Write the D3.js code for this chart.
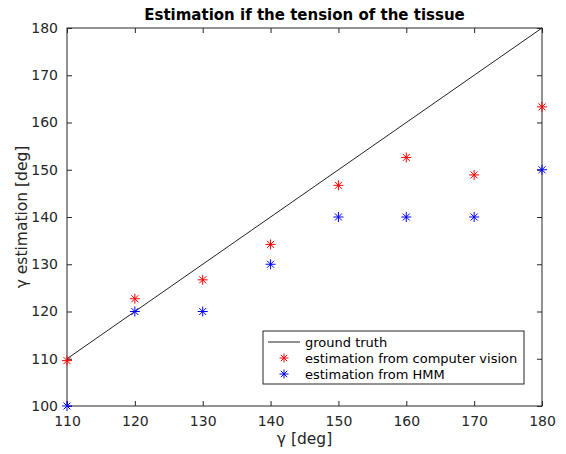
<!DOCTYPE html>
<html>
<head>
<meta charset="utf-8">
<script src="https://cdn.jsdelivr.net/npm/d3@7"></script>
<style>
  body { margin: 0; background: #fff; }
  text { font-family: "DejaVu Sans", sans-serif; }
</style>
</head>
<body>
<div id="chart"></div>
<script>
// gamma values (x)
const gammaTrue = [110, 120, 130, 140, 150, 160, 170, 180];
// estimation from computer vision
const cvEstimate = [109.6, 122.7, 126.7, 134.2, 146.7, 152.6, 148.9, 163.3];
// estimation from HMM
const hmmEstimate = [100, 120, 120, 130, 140, 140, 140, 150];
const groundTruth = [110, 180];
const xTicks = [110, 120, 130, 140, 150, 160, 170, 180];
const yTicks = [100, 110, 120, 130, 140, 150, 160, 170, 180];

const width = 566, height = 454;
const margins = { left: 67, right: 24, top: 28, bottom: 48 };

const svg = d3.select("#chart").append("svg")
    .attr("width", width)
    .attr("height", height);

const x = d3.scaleLinear().domain([110, 180]).range([margins.left, width - margins.right]);
const y = d3.scaleLinear().domain([100, 180]).range([height - margins.bottom, margins.top]);

const axisColor = "#262626";
const plotW = width - margins.left - margins.right;
const plotH = height - margins.top - margins.bottom;

// box
svg.append("rect")
    .attr("x", margins.left).attr("y", margins.top)
    .attr("width", plotW).attr("height", plotH)
    .attr("fill", "none").attr("stroke", axisColor).attr("stroke-width", 1);

function styleAxis(g) {
    g.select(".domain").remove();
    g.selectAll(".tick line").attr("stroke", axisColor);
    g.selectAll(".tick text").attr("fill", axisColor).style("font-size", "14px");
}

// bottom axis, ticks inward
svg.append("g")
    .attr("transform", "translate(0," + (height - margins.bottom) + ")")
    .call(d3.axisBottom(x).tickValues(xTicks).tickSizeInner(-5).tickSizeOuter(0).tickPadding(10))
    .call(styleAxis);
// top ticks
svg.append("g")
    .attr("transform", "translate(0," + margins.top + ")")
    .call(d3.axisTop(x).tickValues(xTicks).tickSizeInner(-5).tickSizeOuter(0).tickFormat(""))
    .call(styleAxis);
// left axis
svg.append("g")
    .attr("transform", "translate(" + margins.left + ",0)")
    .call(d3.axisLeft(y).tickValues(yTicks).tickSizeInner(-5).tickSizeOuter(0).tickPadding(9))
    .call(styleAxis);
// right ticks
svg.append("g")
    .attr("transform", "translate(" + (width - margins.right) + ",0)")
    .call(d3.axisRight(y).tickValues(yTicks).tickSizeInner(-5).tickSizeOuter(0).tickFormat(""))
    .call(styleAxis);

// axis labels and title
svg.append("text")
    .attr("x", margins.left + plotW / 2).attr("y", 444)
    .attr("text-anchor", "middle").attr("fill", axisColor)
    .style("font-size", "15.5px").text("γ [deg]");
svg.append("text")
    .attr("transform", "translate(27," + (margins.top + plotH / 2) + ") rotate(-90)")
    .attr("text-anchor", "middle").attr("fill", axisColor)
    .style("font-size", "15.5px").text("γ estimation [deg]");
svg.append("text")
    .attr("x", margins.left + plotW / 2).attr("y", 20)
    .attr("text-anchor", "middle").attr("fill", "#000")
    .style("font-size", "15px").style("font-weight", "bold")
    .text("Estimation if the tension of the tissue");

// ground truth line
svg.append("line")
    .attr("x1", x(groundTruth[0])).attr("y1", y(groundTruth[0]))
    .attr("x2", x(groundTruth[1])).attr("y2", y(groundTruth[1]))
    .attr("stroke", "#222").attr("stroke-width", 1);

// asterisk marker path
function star(r) {
    const d = r * 0.7;
    return "M" + (-r) + ",0H" + r + "M0," + (-r) + "V" + r +
        "M" + (-d) + "," + (-d) + "L" + d + "," + d +
        "M" + (-d) + "," + d + "L" + d + "," + (-d);
}

function drawStars(values, color) {
    svg.append("g").selectAll("path")
        .data(values)
        .enter()
            .append("path")
            .attr("d", star(5))
            .attr("transform", (d, i) => "translate(" + x(gammaTrue[i]) + "," + y(d) + ")")
            .attr("stroke", color).attr("stroke-width", 1).attr("fill", "none");
}
drawStars(cvEstimate, "#ff0000");
drawStars(hmmEstimate, "#0000ff");

// legend
const lg = svg.append("g").attr("transform", "translate(263,331)");
lg.append("rect").attr("width", 261).attr("height", 53)
    .attr("fill", "#fff").attr("stroke", axisColor).attr("stroke-width", 1);
const items = [
    { label: "ground truth", type: "line", color: "#222" },
    { label: "estimation from computer vision", type: "star", color: "#ff0000" },
    { label: "estimation from HMM", type: "star", color: "#0000ff" }
];
items.forEach((it, i) => {
    const cy = 11 + i * 16;
    if (it.type === "line") {
        lg.append("line").attr("x1", 5).attr("x2", 37).attr("y1", cy).attr("y2", cy)
            .attr("stroke", it.color).attr("stroke-width", 1);
    } else {
        lg.append("path").attr("d", star(4.5))
            .attr("transform", "translate(21," + cy + ")")
            .attr("stroke", it.color).attr("stroke-width", 1).attr("fill", "none");
    }
    lg.append("text").attr("x", 42).attr("y", cy + 4.5)
        .attr("fill", "#000").style("font-size", "13px").text(it.label);
});
</script>
</body>
</html>
